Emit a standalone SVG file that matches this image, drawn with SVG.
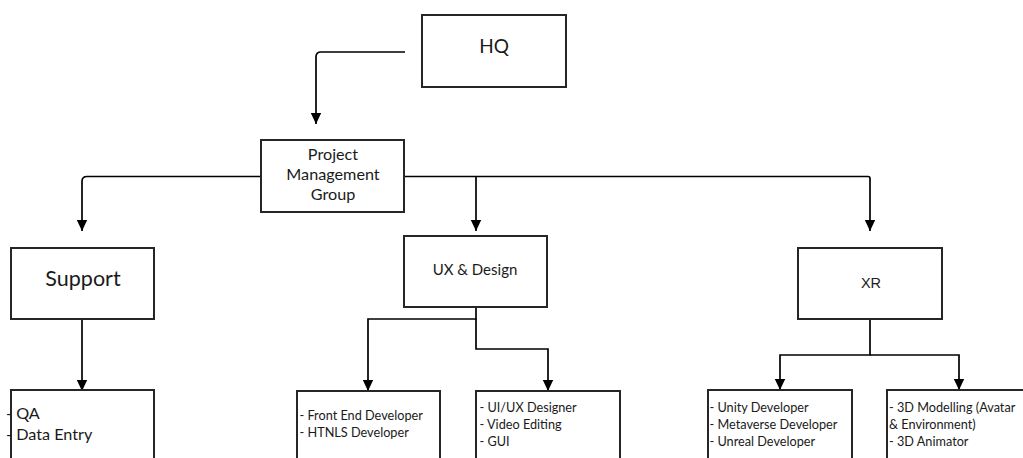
<svg xmlns="http://www.w3.org/2000/svg" width="1023" height="458" viewBox="0 0 1023 458">
  <defs>
    <marker id="arr" markerUnits="userSpaceOnUse" markerWidth="12" markerHeight="12" viewBox="0 0 12 12" refX="11" refY="6" orient="auto">
      <path d="M0,0.8 L11,6 L0,11.2 z" fill="#000"/>
    </marker>
    <style>
      .box { fill: #fff; stroke: #262626; stroke-width: 2; }
      .conn { fill: none; stroke: #000; stroke-width: 1.7; }
      .t { font-family: Lato, "Liberation Sans", sans-serif; fill: #1a1a1a; }
      .xr { font-family: "Liberation Sans", Arial, sans-serif; fill: #222; }
    </style>
  </defs>
  <rect width="1023" height="458" fill="#fff"/>

  <g id="connectors">
    <path class="conn" d="M405,52 H321 Q316,52 316,57 V124" marker-end="url(#arr)"/>
    <path class="conn" d="M261,176.5 H87 Q82,176.5 82,181.5 V231" marker-end="url(#arr)"/>
    <path class="conn" d="M404,176.5 H868 Q870,176.5 870,178.5 V231" marker-end="url(#arr)"/>
    <path class="conn" d="M476,176.5 V231" marker-end="url(#arr)"/>
    <path class="conn" d="M82,319 V391" marker-end="url(#arr)"/>
    <path class="conn" d="M476,307 V319 H368 V391" marker-end="url(#arr)"/>
    <path class="conn" d="M476,319 V349 H548 V391" marker-end="url(#arr)"/>
    <path class="conn" d="M870,319 V355 H780 V390" marker-end="url(#arr)"/>
    <path class="conn" d="M870,355 H959 V390" marker-end="url(#arr)"/>
  </g>

  <g id="hq">
    <rect class="box" x="422" y="15" width="144" height="72"/>
    <text class="t" x="494" y="53" font-size="19" text-anchor="middle">HQ</text>
  </g>

  <g id="pmg">
    <rect class="box" x="261" y="140" width="143" height="72"/>
    <text class="t" x="333" font-size="16.2" text-anchor="middle"><tspan x="333" y="160">Project</tspan><tspan x="333" y="180">Management</tspan><tspan x="333" y="200">Group</tspan></text>
  </g>

  <g id="support">
    <rect class="box" x="11" y="248" width="143" height="71"/>
    <text class="t" x="83" y="286" font-size="21.5" text-anchor="middle">Support</text>
  </g>

  <g id="ux">
    <rect class="box" x="404" y="236" width="143" height="71"/>
    <text class="t" x="475" y="275" font-size="15" text-anchor="middle">UX &amp; Design</text>
  </g>

  <g id="xr">
    <rect class="box" x="798" y="248" width="144" height="71"/>
    <text class="xr" x="871" y="288" font-size="14.5" text-anchor="middle">XR</text>
  </g>

  <g id="support-list">
    <rect class="box" x="11" y="390" width="143" height="80"/>
    <text class="t" font-size="16.2"><tspan x="6" y="418.5">- QA</tspan><tspan x="6" y="440">- Data Entry</tspan></text>
  </g>

  <g id="ux-dev-list">
    <rect class="box" x="297" y="391" width="143" height="80"/>
    <text class="t" font-size="12.7"><tspan x="299.5" y="420">- Front End Developer</tspan><tspan x="299.5" y="436.7">- HTNLS Developer</tspan></text>
  </g>

  <g id="ux-design-list">
    <rect class="box" x="476" y="391" width="144" height="80"/>
    <text class="t" font-size="12.7"><tspan x="479.5" y="412">- UI/UX Designer</tspan><tspan x="479.5" y="429">- Video Editing</tspan><tspan x="479.5" y="446">- GUI</tspan></text>
  </g>

  <g id="xr-dev-list">
    <rect class="box" x="708" y="390" width="144" height="80"/>
    <text class="t" font-size="12.7"><tspan x="709.5" y="412">- Unity Developer</tspan><tspan x="709.5" y="429">- Metaverse Developer</tspan><tspan x="709.5" y="445.7">- Unreal Developer</tspan></text>
  </g>

  <g id="xr-3d-list">
    <rect class="box" x="887" y="390" width="150" height="80"/>
    <text class="t" font-size="12.7"><tspan x="889" y="412">- 3D Modelling (Avatar</tspan><tspan x="889" y="429">&amp; Environment)</tspan><tspan x="889" y="445.7">- 3D Animator</tspan></text>
  </g>
</svg>
